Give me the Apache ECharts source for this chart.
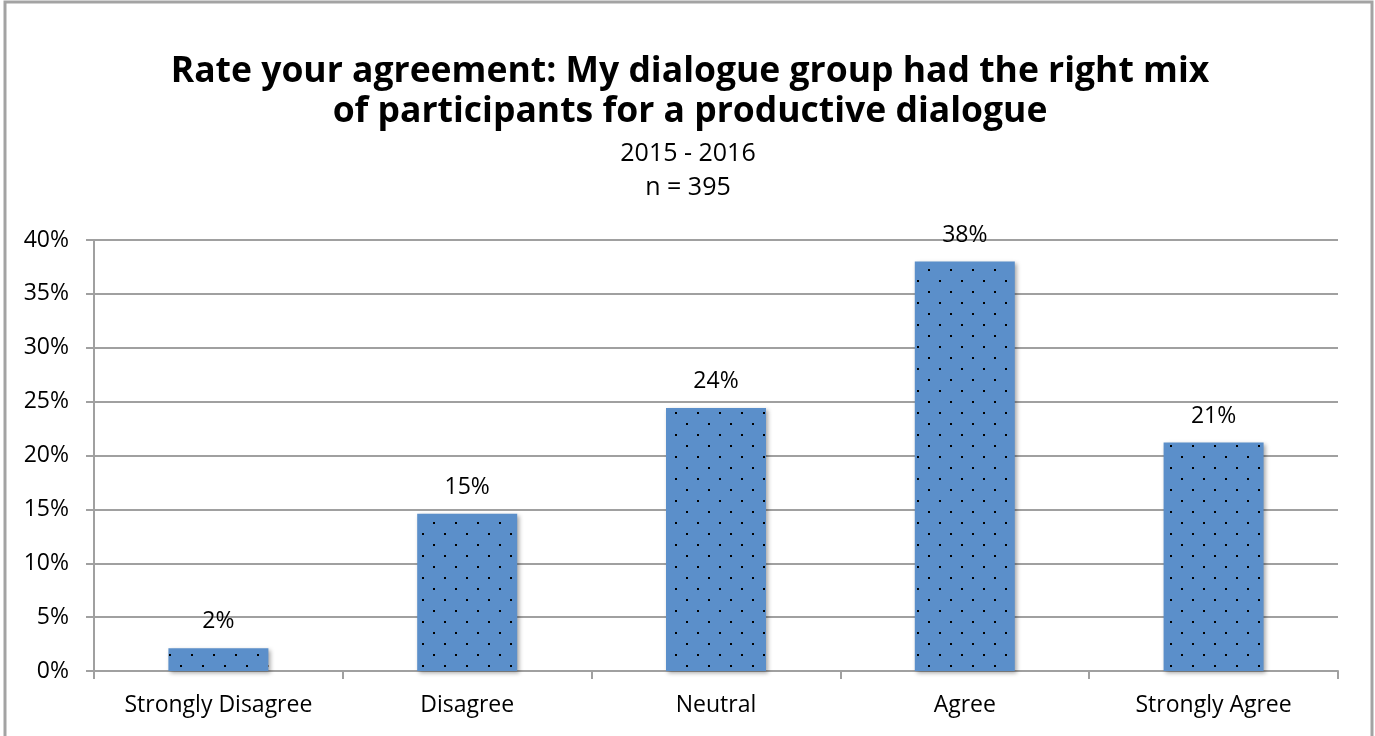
<!DOCTYPE html>
<html>
<head>
<meta charset="utf-8">
<script src="https://cdn.jsdelivr.net/npm/echarts@6/dist/echarts.min.js"></script>
<style>
  html, body { margin: 0; padding: 0; background: #fff; }
  #chart { width: 1375px; height: 736px; }
</style>
</head>
<body>
<div id="chart"></div>
<script>
// Survey responses, 2015 - 2016
const categories = ['Strongly Disagree', 'Disagree', 'Neutral', 'Agree', 'Strongly Agree'];
const shares = [0.021, 0.146, 0.244, 0.380, 0.212];
const titleText = 'Rate your agreement: My dialogue group had the right mix\nof participants for a productive dialogue';
const subText = '2015 - 2016\nn = 395';

const FONT = '"Open Sans", sans-serif';

// Dotted fill: blue ground with small black dots in a staggered grid
function dotPattern() {
  const c = document.createElement('canvas');
  c.width = 22; c.height = 22;
  const g = c.getContext('2d');
  g.fillStyle = '#5b8fca';
  g.fillRect(0, 0, 22, 22);
  g.fillStyle = '#000';
  g.fillRect(4, 5, 2, 2);
  g.fillRect(15, 16, 2, 2);
  return c;
}

const chart = echarts.init(document.getElementById('chart'), null, { renderer: 'canvas' });
chart.setOption({
  backgroundColor: '#fff',
  animation: false,
  graphic: [{
    type: 'rect',
    shape: { x: 5, y: 2, width: 1367, height: 800 },
    style: { fill: 'none', stroke: '#a3a3a3', lineWidth: 3 },
    silent: true
  }, {
    type: 'text',
    x: 690, y: 52,
    silent: true,
    style: {
      text: titleText, align: 'center', verticalAlign: 'top',
      font: 'bold 35.5px ' + FONT, lineHeight: 40, fill: '#000'
    }
  }, {
    type: 'text',
    x: 688, y: 137,
    silent: true,
    style: {
      text: subText, align: 'center', verticalAlign: 'top',
      font: '25px ' + FONT, lineHeight: 34, fill: '#000'
    }
  }],
  grid: { left: 94, right: 37, top: 240, bottom: 65 },
  xAxis: {
    type: 'category',
    data: categories,
    axisLine: { lineStyle: { color: '#a0a0a0', width: 2 } },
    axisTick: { show: true, length: 8, lineStyle: { color: '#a0a0a0', width: 2 } },
    axisLabel: { color: '#000', fontFamily: FONT, fontSize: 23, margin: 23 }
  },
  yAxis: {
    type: 'value',
    min: 0, max: 0.4, interval: 0.05,
    axisLine: { show: true, lineStyle: { color: '#a0a0a0', width: 2 } },
    axisTick: { show: true, length: 8, lineStyle: { color: '#a0a0a0', width: 2 } },
    splitLine: { lineStyle: { color: '#a0a0a0', width: 2 } },
    axisLabel: {
      color: '#000', fontFamily: FONT, fontSize: 23, margin: 25,
      formatter: v => Math.round(v * 100) + '%'
    }
  },
  series: [{
    type: 'bar',
    data: shares,
    barWidth: 100,
    itemStyle: {
      color: { image: dotPattern(), repeat: 'repeat' },
      shadowBlur: 4,
      shadowColor: 'rgba(0,0,0,0.35)',
      shadowOffsetX: 2,
      shadowOffsetY: 2
    },
    label: {
      show: true,
      position: 'top',
      distance: 15,
      color: '#000',
      fontFamily: FONT,
      fontSize: 23,
      formatter: p => Math.round(p.value * 100) + '%'
    }
  }]
});
</script>
</body>
</html>
